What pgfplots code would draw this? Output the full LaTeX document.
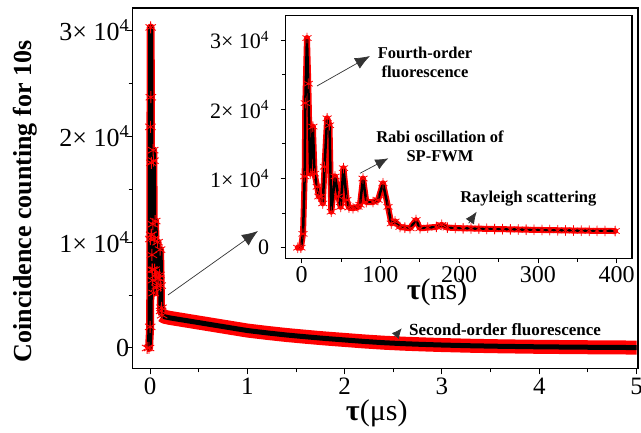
\documentclass[border=0pt]{standalone}
\usepackage{pgfplots}
\usepackage{pgfplotstable}
\pgfplotsset{compat=1.18}
\usepackage{fontspec}
\setmainfont{Liberation Serif}
\usetikzlibrary{arrows.meta}

\pgfplotstableread{
x y
-0.03 0
-0.01 0
0.0017 2000
0.0038 10300
0.0046 20900
0.0067 30300
0.0084 23700
0.0108 10700
0.0142 17500
0.0163 10700
0.0197 8800
0.0218 7400
0.0247 7400
0.0268 6400
0.0290 11700
0.0323 18700
0.0353 17700
0.0376 5200
0.0423 10300
0.0466 7400
0.0530 12000
0.0572 6900
0.0652 5700
0.0715 5900
0.0779 10000
0.0821 6600
0.0905 6600
0.0969 6900
0.1032 9300
0.1096 5900
0.1138 3500
0.1185 3800
0.1248 3100
0.15 2950
0.2 2850
0.3 2700
0.4 2550
0.5 2400
0.6 2250
0.7 2100
0.8 1950
0.9 1800
1.0 1650
1.2 1430
1.4 1230
1.6 1060
1.8 900
2.0 760
2.2 620
2.4 500
2.6 410
2.8 340
3.0 280
3.3 210
3.6 160
4.0 110
4.5 70
5.0 40
}\maindata

\pgfplotstableread{
x y
-5 0
-1 0
1.7 2000
3.8 10300
4.6 20900
6.7 30300
8.4 23700
10.8 10700
14.2 17500
16.3 10700
19.7 8800
21.8 7400
24.7 7400
26.8 6400
29.0 11700
32.3 18700
35.3 17700
37.6 5200
42.3 10300
46.6 7400
49.5 5900
53.0 11500
57.2 6900
60.0 5800
65.2 5700
71.5 5900
74.0 6200
77.9 10000
82.1 6600
90.5 6600
96.9 6900
103.2 9300
109.6 5900
113.8 3500
118.5 3800
124.8 3000
131 2900
137.5 2800
145.1 4000
150.2 2800
160 2900
171 3000
177.8 3300
185 2900
195 2850
205 2800
215 2780
225 2750
235 2720
245 2700
255 2680
265 2650
275 2630
285 2600
295 2580
305 2560
315 2540
325 2520
335 2500
345 2480
355 2460
365 2450
375 2430
385 2420
398 2410
}\insetdata

\begin{document}
\begin{tikzpicture}
\useasboundingbox (-132.7pt,-64.7pt) rectangle (508.3pt,368.3pt);
\begin{axis}[
  at={(0pt,0pt)}, anchor=south west, scale only axis,
  width=505.3pt, height=360.3pt,
  xmin=-0.178, xmax=5.014, ymin=-1919, ymax=32136,
  xtick={0,1,2,3,4,5}, minor x tick num=1,
  ytick={0,10000,20000,30000}, minor y tick num=1,
  yticklabels={0,1×\ 10\textsuperscript{4},2×\ 10\textsuperscript{4},3×\ 10\textsuperscript{4}},
  scaled y ticks=false, scaled x ticks=false,
  tick align=outside, xtick pos=left, ytick pos=left,
  major tick length=6pt, minor tick length=4pt,
  axis line style={line width=1.3pt},
  every tick/.style={black, line width=1pt},
  tick label style={font=\fontsize{25}{25}\selectfont},
  yticklabel style={font=\fontsize{26}{26}\selectfont, xshift=6pt},
  /pgf/number format/assume math mode=true,
  xlabel={\textbf{τ}(μs)},
  xlabel style={font=\fontsize{30}{30}\selectfont, at={(axis description cs:0.483,-0.125)}, anchor=center},
  ylabel={\textbf{Coincidence counting for 10s}},
  ylabel style={font=\fontsize{26}{26}\selectfont, at={(axis description cs:-0.213,0.463)}, anchor=center, rotate=0},
]
\addplot[red, line width=8pt, line join=round, mark=asterisk, mark size=6pt, mark options={line width=0.9pt}, restrict x to domain=-1:0.125] table[x=x,y=y] {\maindata};
\addplot[red, line width=14pt, line join=round, restrict x to domain=0.12:6] table[x=x,y=y] {\maindata};
\addplot[black, line width=5pt, line join=round] table[x=x,y=y] {\maindata};
\end{axis}

\begin{axis}[
  at={(153pt,110pt)}, anchor=south west, scale only axis,
  width=346.3pt, height=242.8pt,
  axis background/.style={fill=white},
  xmin=-20.3, xmax=419.4, ymin=-1532, ymax=33555,
  xtick={0,100,200,300,400}, minor x tick num=1,
  ytick={0,10000,20000,30000}, minor y tick num=1,
  yticklabels={0,1×\ 10\textsuperscript{4},2×\ 10\textsuperscript{4},3×\ 10\textsuperscript{4}},
  scaled y ticks=false, scaled x ticks=false,
  tick align=outside, xtick pos=left, ytick pos=left,
  major tick length=5pt, minor tick length=3.5pt,
  axis line style={line width=1.1pt},
  every tick/.style={black, line width=0.9pt},
  tick label style={font=\fontsize{24}{24}\selectfont},
  yticklabel style={font=\fontsize{22}{22}\selectfont, xshift=-8pt},
  /pgf/number format/assume math mode=true,
  xlabel={\textbf{τ}(ns)},
  xlabel style={font=\fontsize{30}{30}\selectfont, at={(axis description cs:0.437,-0.14)}, anchor=center},
]
\addplot[red, line width=6pt, line join=round, line cap=round, mark=asterisk, mark size=5pt, mark options={line width=0.8pt}] table[x=x,y=y] {\insetdata};
\addplot[black, line width=2.5pt, line join=round] table[x=x,y=y] {\insetdata};
\end{axis}

\draw[-{Latex[length=16pt,width=13pt]}, line width=0.7pt, black!80] (35.3pt,73.3pt) -- (125.3pt,137.3pt);
\draw[-{Latex[length=15pt,width=12pt]}, line width=0.7pt, black!80] (184.3pt,282.3pt) -- (237.3pt,312.3pt);
\draw[-{Latex[length=13pt,width=11pt]}, line width=0.7pt, black!80] (227.3pt,195pt) -- (255.6pt,210pt);
\draw[-{Latex[length=12pt,width=10pt]}, line width=0.7pt, black!80] (336pt,145pt) -- (344pt,156.6pt);
\draw[-{Latex[length=10pt,width=9pt]}, line width=0.7pt, black!80] (262pt,31.5pt) -- (269pt,40pt);

\node[font=\fontsize{16.5}{19}\selectfont\bfseries, align=center] at (292.3pt,305.8pt) {Fourth-order\\fluorescence};
\node[font=\fontsize{16.5}{19}\selectfont\bfseries, align=center] at (307.3pt,222pt) {Rabi oscillation of\\SP-FWM};
\node[font=\fontsize{16.5}{19}\selectfont\bfseries] at (395.6pt,170pt) {Rayleigh scattering};
\node[font=\fontsize{17}{19}\selectfont\bfseries] at (372.3pt,38.3pt) {Second-order fluorescence};
\end{tikzpicture}
\end{document}
